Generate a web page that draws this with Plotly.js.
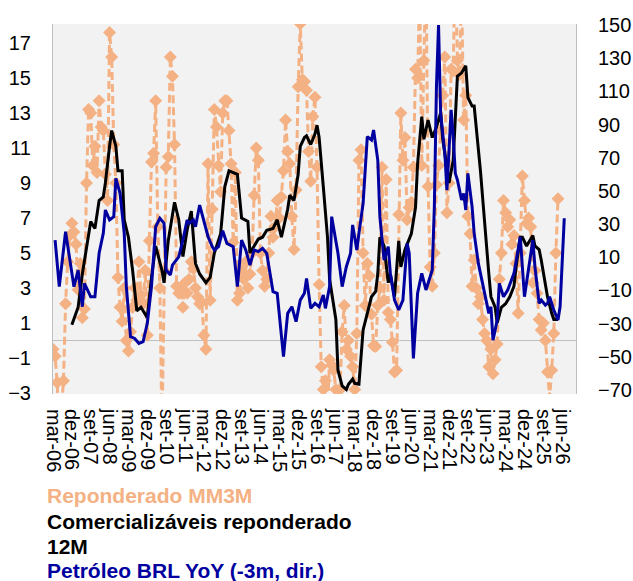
<!DOCTYPE html>
<html>
<head>
<meta charset="utf-8">
<script src="https://cdn.plot.ly/plotly-3.0.1.min.js"></script>
<style>html,body{margin:0;padding:0;background:#fff;}#chart{width:633px;height:581px;}</style>
</head>
<body>
<div id="chart"></div>
<script>
// Month offsets are counted from mar-06 (0 = mar-06, 1 = abr-06, ...)
const tickLabels = ['mar-06','dez-06','set-07','jun-08','mar-09','dez-09','set-10','jun-11','mar-12','dez-12','set-13','jun-14','mar-15','dez-15','set-16','jun-17','mar-18','dez-18','set-19','jun-20','mar-21','dez-21','set-22','jun-23','mar-24','dez-24','set-25','jun-26'];
const tickMonths = [0,9,18,27,36,45,54,63,72,81,90,99,108,117,126,135,144,153,162,171,180,189,198,207,216,225,234,243];

// Reponderado MM3M (monthly, from mar-06)
const reponderadoMM3M = [
-0.5,-0.9,-2.4,-5.5,-4.0,-2.3,2.1,4.5,6.0,6.7,
6.2,5.5,2.9,4.4,1.3,1.8,9.0,13.2,13.0,10.0,
11.1,9.6,13.7,12.2,12.0,9.5,8.0,17.6,16.2,11.2,
9.0,3.6,1.9,1.1,3.0,0.0,-0.6,0.5,1.9,3.0,
2.3,4.5,2.6,2.1,4.0,0.3,5.7,10.2,10.7,13.7,
6.5,3.0,-5.0,4.0,9.9,10.5,16.2,15.1,11.2,3.1,
2.7,2.9,1.9,3.3,2.7,3.5,4.5,4.1,3.0,2.5,
2.1,2.2,0.3,-0.5,10.1,2.3,7.5,13.2,12.2,10.0,
8.5,13.0,13.7,13.7,12.0,10.1,5.6,9.6,2.3,2.7,
4.0,3.5,4.5,3.0,3.8,5.0,8.3,11.0,10.3,5.0,
4.0,3.1,3.5,5.0,7.1,5.9,6.5,8.0,7.0,8.2,
9.7,12.6,10.8,10.1,7.1,5.2,8.6,14.5,18.1,14.9,
14.8,14.3,10.8,9.1,12.8,13.9,9.9,3.2,-1.5,-2.8,
-2.3,-4.0,-1.1,-1.4,-1.7,-2.8,-4.5,-2.8,0.5,2.0,
-0.5,0.0,-0.9,-1.5,-2.8,0.4,10.3,10.9,5.0,2.0,
4.4,3.7,1.5,-0.3,-0.35,2.0,3.0,9.9,2.3,9.2,
1.6,1.2,-0.1,-1.8,-1.7,7.2,13.0,10.3,11.6,6.9,
7.6,7.9,9.9,15.5,15.0,20.0,10.0,16.0,21.0,8.8,
4.2,3.1,5.0,8.9,10.0,12.0,14.0,16.2,7.3,9.0,
15.5,15.4,22.0,16.0,15.2,20.0,12.6,14.0,7.1,6.1,
3.1,4.6,3.0,2.1,2.5,1.2,0.4,0.0,-1.5,-0.5,
-1.9,-1.1,-0.2,3.5,5.0,8.0,7.3,6.5,6.9,5.5,
6.0,4.4,1.55,5.0,9.4,8.0,6.7,7.0,6.5,3.3,
4.0,2.7,1.2,0.6,1.0,0.0,-1.8,-3.3,-1.7,0.4,
5.0,8.1
];

// Comercializáveis reponderado 12M
const comercMonths = [9,12,14,17,18,20,22,24,25,27,28,30,31,33,34,36,38,40,42,45,47,49,52,53,55,58,60,62,64,66,68,70,73,75,77,80,82,84,86,88,90,93,94,96,98,100,102,105,107,109,112,113,115,117,118,120,121,123,125,126,127,129,131,132,135,136,138,140,141,143,144,146,148,150,152,154,155,156,158,160,161,163,165,166,168,171,173,174,176,177,179,181,183,185,186,189,191,193,195,197,198,200,201,204,206,208,209,211,212,214,216,218,220,221,223,224,226,228,229,230,232,233,236,238,239,241];
const comercValues = [0.9,1.9,3.8,6.1,6.8,6.4,8.0,8.2,9.0,11.1,12.0,11.1,9.7,9.7,6.9,5.9,4.0,1.7,1.9,1.3,3.6,5.4,4.0,3.3,5.7,7.9,6.9,4.8,6.3,7.4,4.4,3.8,3.3,3.6,5.0,6.1,8.8,9.7,9.6,9.5,7.0,6.8,5.0,5.4,5.8,5.9,6.3,6.4,6.9,5.9,7.5,8.3,8.0,9.5,11.1,11.6,11.7,11.2,11.8,12.3,11.6,8.8,5.9,3.5,1.2,-1.7,-2.6,-2.8,-2.5,-2.2,-2.45,-2.5,0.6,1.55,2.5,2.8,3.8,5.9,5.4,3.3,3.8,2.5,5.7,4.2,5.2,6.1,7.6,10.1,12.8,11.5,12.6,11.6,12.2,13.0,11.5,9.0,10.3,15.1,15.3,15.7,13.9,13.4,13.4,9.7,6.5,3.8,2.5,1.9,1.0,1.9,2.1,2.5,3.1,4.2,5.9,5.9,5.4,5.8,6.0,5.4,5.2,4.6,2.5,1.55,1.2,1.2];

// Petróleo BRL YoY (-3m, dir.)
const petroleoMonths = [1,3,6,7,10,12,14,15,18,20,22,24,25,27,29,30,32,34,35,37,39,41,43,45,47,49,51,53,54,56,57,60,62,64,65,67,68,70,72,74,76,77,79,81,83,86,88,90,92,94,96,98,100,102,105,107,110,112,114,116,118,120,121,123,125,127,129,130,132,133,136,138,140,142,143,145,146,148,150,152,153,155,156,158,160,161,163,165,167,169,170,172,174,176,178,179,181,182,183,184,185,187,188,190,191,192,193,195,196,197,198,200,201,203,204,206,208,209,210,212,213,215,217,220,222,223,225,227,229,230,232,233,235,236,237,239,241,242,243,244];
const petroleoValues = [20.4,-7.7,25.4,16.4,-7.7,2.3,-19.8,-5.7,-13.8,-13.8,12.4,24.4,38.5,32.5,34.5,57.6,48.5,24.4,-7.7,-37.9,-38.9,-41.9,-40.9,-29.8,-7.7,28.4,33.5,30.5,2.3,-0.7,5.3,10.2,20.4,32.5,30.5,32.5,28.4,41.5,32.5,22.4,16.4,14.4,16.4,26.0,18.4,16.4,-7.7,20.4,14.4,5.3,14.4,13.4,15.4,12.4,-10.7,-11.7,-49.9,-23.8,-19.8,-28.8,-15.8,-11.7,-2.7,-20.8,-17.8,-19.8,-12.7,-20.8,-7.7,34.5,12.4,-7.7,4.3,12.4,29.5,14.4,24.4,42.5,82.7,80.7,86.7,68.6,34.5,8.3,16.4,0.3,-15.8,-21.8,-15.8,18.4,12.4,-50.9,-11.7,0.3,-9.7,-5.7,2.3,40.5,112.8,150.0,96.7,72.6,50.5,98.8,82.7,60.6,56.6,44.5,48.5,38.5,60.6,40.5,24.4,6.3,0.3,-9.7,-23.8,-19.8,-39.9,-27.8,-5.7,-13.8,-9.7,0.3,14.4,22.4,-13.8,2.3,20.4,4.3,-17.8,-15.8,-18.8,-17.8,-13.8,-21.8,-27.8,-19.8,12.4,33.5];

const orange = '#F4B183', black = '#000000', blue = '#0000A0';
const reponderadoMonths = reponderadoMM3M.map((_, i) => i);

const traces = [
  {x: reponderadoMonths, y: reponderadoMM3M, type: 'scatter', mode: 'lines+markers',
   name: 'Reponderado MM3M', line: {color: orange, width: 3, dash: '8px,4px'},
   marker: {symbol: 'diamond', size: 10, color: orange}, cliponaxis: true},
  {x: comercMonths, y: comercValues, type: 'scatter', mode: 'lines',
   name: 'Comercializáveis reponderado 12M', line: {color: black, width: 3}},
  {x: petroleoMonths, y: petroleoValues, type: 'scatter', mode: 'lines', yaxis: 'y2',
   name: 'Petróleo BRL YoY (-3m, dir.)', line: {color: blue, width: 3}}
];

const fontFam = '"Liberation Sans", Arial, Helvetica, sans-serif';
function legendLine(text, color, py) {
  return {text: '<b>' + text + '</b>', xref: 'paper', yref: 'paper',
    x: (45 - 53) / 523, y: (394 - py) / 370, xanchor: 'left', yanchor: 'middle',
    showarrow: false, font: {family: fontFam, size: 21, color: color}};
}

const layout = {
  width: 633, height: 581,
  margin: {l: 53, r: 57, t: 24, b: 187},
  paper_bgcolor: '#ffffff', plot_bgcolor: '#F2F2F2',
  font: {family: fontFam, size: 20, color: '#000'},
  showlegend: false,
  xaxis: {range: [0, 249.6], tickmode: 'array', tickvals: tickMonths, ticktext: tickLabels,
    tickangle: 90, showgrid: false, zeroline: false, showline: false,
    ticks: 'outside', ticklen: 10, tickcolor: 'rgba(0,0,0,0)', tickfont: {size: 20}},
  yaxis: {range: [-3.06, 18.09], tickmode: 'array', tickvals: [-3,-1,1,3,5,7,9,11,13,15,17],
    showgrid: false, zeroline: true, zerolinecolor: '#BFBFBF', zerolinewidth: 1,
    showline: true, linecolor: '#BFBFBF', linewidth: 1,
    ticks: 'outside', ticklen: 17, tickcolor: 'rgba(0,0,0,0)', tickfont: {size: 20}},
  yaxis2: {range: [-72.4, 150.6], overlaying: 'y', side: 'right', tickmode: 'array',
    tickvals: [-70,-50,-30,-10,10,30,50,70,90,110,130,150],
    showgrid: false, zeroline: false, showline: true, linecolor: '#BFBFBF', linewidth: 1,
    ticks: 'outside', ticklen: 17, tickcolor: 'rgba(0,0,0,0)', tickfont: {size: 20}},
  annotations: [
    legendLine('Reponderado MM3M', orange, 495),
    legendLine('Comercializáveis reponderado', black, 521),
    legendLine('12M', black, 546),
    legendLine('Petróleo BRL YoY (-3m, dir.)', blue, 570)
  ]
};

Plotly.newPlot('chart', traces, layout, {displayModeBar: false, staticPlot: true});
</script>
</body>
</html>
